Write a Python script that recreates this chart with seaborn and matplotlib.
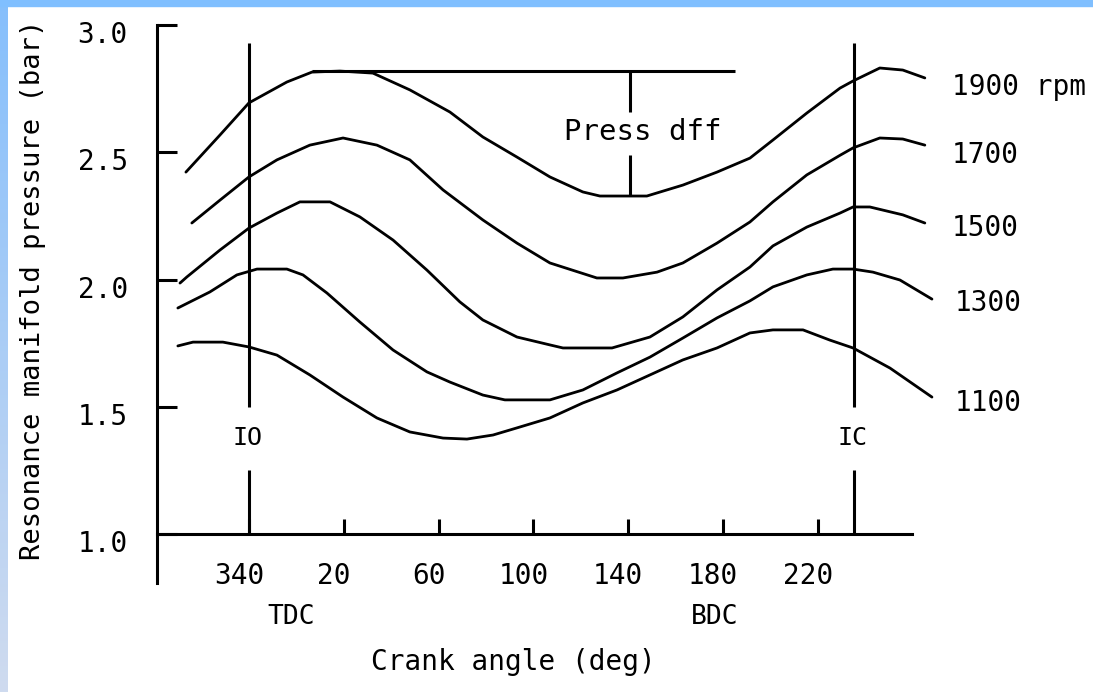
import numpy as np
import pandas as pd
import matplotlib
matplotlib.use("Agg")
import matplotlib.pyplot as plt
import matplotlib.transforms as mtransforms
from matplotlib.patches import Rectangle
from matplotlib.colors import LinearSegmentedColormap
import seaborn as sns

# crank angle in degrees, 340 deg plotted as -20 so the axis is continuous
angle_1900 = [-46.6, -32.2, -20, -4.0, 6.6, 18.4, 32.3, 47.9, 64.8, 78.7, 93.1, 107.0, 120.9,
              128.1, 137.8, 147.9, 163.1, 177.5, 191.4, 201.1, 215.4, 229.4, 234.9, 246.2, 255.9, 265.2]
p_1900 = [2.422, 2.568, 2.694, 2.776, 2.815, 2.819, 2.811, 2.745, 2.658, 2.560, 2.481, 2.403, 2.344,
          2.328, 2.328, 2.328, 2.371, 2.422, 2.477, 2.548, 2.654, 2.752, 2.780, 2.831, 2.823, 2.792]

angle_1700 = [-44.1, -32.2, -20, -8.2, 5.7, 19.7, 34.0, 47.9, 61.9, 78.7, 93.1, 107.0, 126.8,
              137.8, 152.2, 163.1, 177.5, 191.4, 201.1, 215.4, 229.4, 234.9, 246.2, 255.9, 265.2]
p_1700 = [2.222, 2.312, 2.403, 2.470, 2.528, 2.556, 2.528, 2.470, 2.352, 2.234, 2.143, 2.065, 2.006,
          2.006, 2.029, 2.065, 2.143, 2.226, 2.305, 2.411, 2.488, 2.517, 2.556, 2.552, 2.528]

angle_1500 = [-49.1, -46.2, -32.2, -20, -8.2, 1.5, 14.2, 26.8, 40.8, 55.1, 69.0, 78.7, 93.1, 107.0,
              112.5, 133.2, 149.2, 163.1, 177.5, 191.4, 201.1, 215.4, 229.4, 234.9, 242.0, 255.9, 265.2]
p_1500 = [1.986, 2.010, 2.116, 2.202, 2.261, 2.305, 2.305, 2.246, 2.155, 2.037, 1.912, 1.841, 1.774, 1.743,
          1.731, 1.731, 1.774, 1.853, 1.959, 2.049, 2.132, 2.206, 2.261, 2.285, 2.285, 2.254, 2.222]

angle_1300 = [-50.0, -36.5, -25.1, -16.6, -4.0, 2.8, 12.9, 26.8, 40.8, 55.1, 64.8, 78.7, 88.0, 107.0,
              120.9, 135.3, 149.2, 163.1, 177.5, 191.4, 201.1, 215.4, 226.4, 234.9, 243.3, 254.7, 268.2]
p_1300 = [1.888, 1.951, 2.018, 2.041, 2.041, 2.018, 1.947, 1.833, 1.723, 1.637, 1.597, 1.546, 1.527, 1.527,
          1.566, 1.633, 1.695, 1.770, 1.849, 1.916, 1.971, 2.018, 2.041, 2.041, 2.029, 1.998, 1.923]

angle_1100 = [-50.0, -43.6, -31.0, -20, -8.2, 5.7, 19.7, 34.0, 47.9, 61.9, 72.0, 83.0, 93.1,
              107.0, 120.9, 135.3, 149.2, 163.1, 177.5, 191.4, 201.1, 213.8, 225.1, 234.9, 250.5, 268.2]
p_1100 = [1.739, 1.754, 1.754, 1.735, 1.703, 1.625, 1.538, 1.456, 1.401, 1.377, 1.373, 1.389, 1.417,
          1.456, 1.515, 1.566, 1.625, 1.684, 1.731, 1.790, 1.802, 1.802, 1.762, 1.731, 1.652, 1.538]

rpm_labels = ["1900 rpm", "1700", "1500", "1300", "1100"]
label_y = [2.756, 2.489, 2.202, 1.908, 1.515]
label_x = [276.6, 276.6, 276.6, 277.9, 277.9]

xtick_pos = [-20, 20, 60, 100, 140, 180, 220]
xtick_lab = ["340", "20", "60", "100", "140", "180", "220"]
ytick_pos = [1.0, 1.5, 2.0, 2.5, 3.0]
ytick_lab = ["1.0", "1.5", "2.0", "2.5", "3.0"]

io_angle = -20
ic_angle = 235.3

curves = {1900: (angle_1900, p_1900), 1700: (angle_1700, p_1700), 1500: (angle_1500, p_1500),
          1300: (angle_1300, p_1300), 1100: (angle_1100, p_1100)}
rows = []
for rpm, (a, p) in curves.items():
    for x, y in zip(a, p):
        rows.append({"angle": x, "pressure": y, "rpm": rpm})
df = pd.DataFrame(rows)

sns.set_theme(style="white")
plt.rcParams["font.family"] = ["DejaVu Sans Mono", "DejaVu Sans"]
plt.rcParams["text.color"] = "black"
plt.rcParams["axes.labelcolor"] = "black"
plt.rcParams["xtick.color"] = "black"
plt.rcParams["ytick.color"] = "black"
FS = 20
LW = 2.0

fig = plt.figure(figsize=(10.93, 6.92), dpi=100)
fig.patch.set_facecolor("white")

# blue frame on the left and top
grad = np.linspace(0, 1, 256).reshape(-1, 1)
bax = fig.add_axes([0, 0, 8 / 1093, 1])
bax.imshow(grad, aspect="auto", cmap=LinearSegmentedColormap.from_list("b", ["#86bffc", "#cfdbef"]))
bax.axis("off")
fig.patches.append(Rectangle((0, 1 - 6 / 692), 1, 6 / 692, transform=fig.transFigure,
                             color="#80bfff", zorder=5))

ax = fig.add_axes([157 / 1093, 1 - 583 / 692, 783 / 1093, 558 / 692])
sns.lineplot(data=df, x="angle", y="pressure", hue="rpm", units="rpm", estimator=None,
             palette={r: "black" for r in curves}, legend=False, linewidth=LW, ax=ax)

ax.set_xlim(-58.8, 271.6)
ax.set_ylim(0.8075, 3.0)
ax.set_facecolor("white")

for s in ["top", "right"]:
    ax.spines[s].set_visible(False)
for s in ["left", "bottom"]:
    ax.spines[s].set_color("black")
    ax.spines[s].set_linewidth(2.2)
ax.spines["bottom"].set_position(("data", 1.0))
ax.spines["bottom"].set_bounds(-58.8, 259.7)

ax.set_xticks(xtick_pos)
ax.set_xticklabels(xtick_lab, fontsize=FS)
ax.set_yticks(ytick_pos)
ax.set_yticklabels(ytick_lab, fontsize=FS)
ax.tick_params(axis="x", direction="in", length=10.8, width=2.2, color="black", pad=20, bottom=True)
ax.tick_params(axis="y", direction="in", length=14.4, width=2.2, color="black", pad=21, left=True)

off_y = mtransforms.ScaledTranslation(0, -7 / 100, fig.dpi_scale_trans)
for lab in ax.get_yticklabels():
    lab.set_transform(lab.get_transform() + off_y)
off_x = mtransforms.ScaledTranslation(-10 / 100, 0, fig.dpi_scale_trans)
for lab in ax.get_xticklabels():
    lab.set_transform(lab.get_transform() + off_x)

ax.set_xlabel("Crank angle (deg)", fontsize=FS, va="center")
ax.xaxis.set_label_coords(0.455, -0.1416)
ax.set_ylabel("Resonance manifold pressure (bar)", fontsize=FS - 0.5, va="center")
ax.yaxis.set_label_coords(-0.158, 0.526)

# IO / IC valve timing lines with a gap for the label
for a, name in [(io_angle, "IO"), (ic_angle, "IC")]:
    ax.vlines(a, 1.499, 2.929, color="black", linewidth=2.2)
    ax.vlines(a, 1.0, 1.251, color="black", linewidth=2.2)
    ax.text(a - 0.7, 1.377, name, fontsize=FS - 2, ha="center", va="center")

ax.text(-2, 0.674, "TDC", fontsize=FS - 1, ha="center", va="center", clip_on=False)
ax.text(176.6, 0.674, "BDC", fontsize=FS - 1, ha="center", va="center", clip_on=False)

# pressure difference marker on the 1900 rpm curve
peak = max(p_1900[:10])
trough = min(p_1900)
ax.hlines(peak, angle_1900[4], 185.1, color="black", linewidth=2.2)
ax.vlines(140.8, 2.658, peak, color="black", linewidth=2.2)
ax.vlines(140.8, trough, 2.489, color="black", linewidth=2.2)
ax.text(146.2, 2.580, "Press dff", fontsize=FS + 1, ha="center", va="center")

for t, x, y in zip(rpm_labels, label_x, label_y):
    ax.text(x, y, t, fontsize=FS, ha="left", va="center", clip_on=False)

fig.savefig("out.png", dpi=100, facecolor="white")
